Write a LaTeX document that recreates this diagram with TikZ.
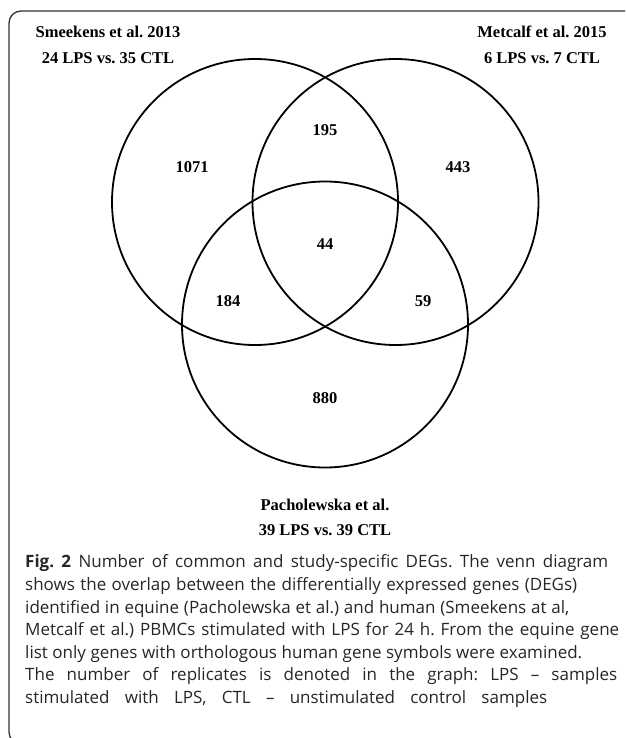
\documentclass[tikz,border=0pt]{standalone}
\usepackage{fontspec}
\setmainfont{Liberation Serif}
\newfontfamily\capfont{Open Sans}
\frenchspacing
\begin{document}
\begin{tikzpicture}[x=1pt,y=-1pt,
  venn/.style={line width=1.8pt, draw=black},
  lab/.style={font=\fontsize{16.5}{19}\selectfont\bfseries, anchor=base, inner sep=0pt},
  num/.style={font=\fontsize{16.5}{19}\selectfont\bfseries, anchor=base, inner sep=0pt},
  capline/.style={font=\capfont\fontsize{17}{19}\selectfont, anchor=base west, inner sep=0pt, text=black!85}
]
\useasboundingbox (0,0) rectangle (625,738);
\begin{scope}
\clip (0,0) rectangle (625,738);
\draw[line width=1.3pt, draw=black!80, rounded corners=12pt] (9,11) rectangle (700,744);
\end{scope}
% circles
\draw[venn] (255,202) circle (143);
\draw[venn] (395.5,202) circle (143);
\draw[venn] (325,324.5) circle (143);
% study labels
\node[lab] (s1) at (108,38) {Smeekens et al. 2013};
\node[lab] (s2) at (108,63.5) {24 LPS vs. 35 CTL};
\node[lab] (m1) at (542,38) {Metcalf et al. 2015};
\node[lab] (m2) at (542,63.5) {6 LPS vs. 7 CTL};
\node[lab] (p1) at (325,510) {Pacholewska et al.};
\node[lab] (p2) at (325,535) {39 LPS vs. 39 CTL};
% counts
\node[num] (n1071) at (192,172.5) {1071};
\node[num] (n195) at (325,135.5) {195};
\node[num] (n443) at (458,172.5) {443};
\node[num] (n44) at (325,249) {44};
\node[num] (n184) at (228,306) {184};
\node[num] (n59) at (423,306) {59};
\node[num] (n880) at (325,403) {880};
% caption
\node[capline] (c1) at (25,567) {\makebox[583pt][s]{\textbf{Fig. 2} Number of common and study-specific DEGs. The venn diagram}};
\node[capline] (c2) at (25,590) {\makebox[552pt][s]{shows the overlap between the differentially expressed genes (DEGs)}};
\node[capline] (c3) at (25,613) {\makebox[544pt][s]{identified in equine (Pacholewska et al.) and human (Smeekens at al,}};
\node[capline] (c4) at (25,635.5) {\makebox[594pt][s]{Metcalf et al.) PBMCs stimulated with LPS for 24 h. From the equine gene}};
\node[capline] (c5) at (25,658) {\makebox[557pt][s]{list only genes with orthologous human gene symbols were examined.}};
\node[capline] (c6) at (25,680.5) {\makebox[592pt][s]{The number of replicates is denoted in the graph: LPS – samples}};
\node[capline] (c7) at (25,703) {\makebox[522pt][s]{stimulated with LPS, CTL – unstimulated control samples}};
\end{tikzpicture}
\end{document}
